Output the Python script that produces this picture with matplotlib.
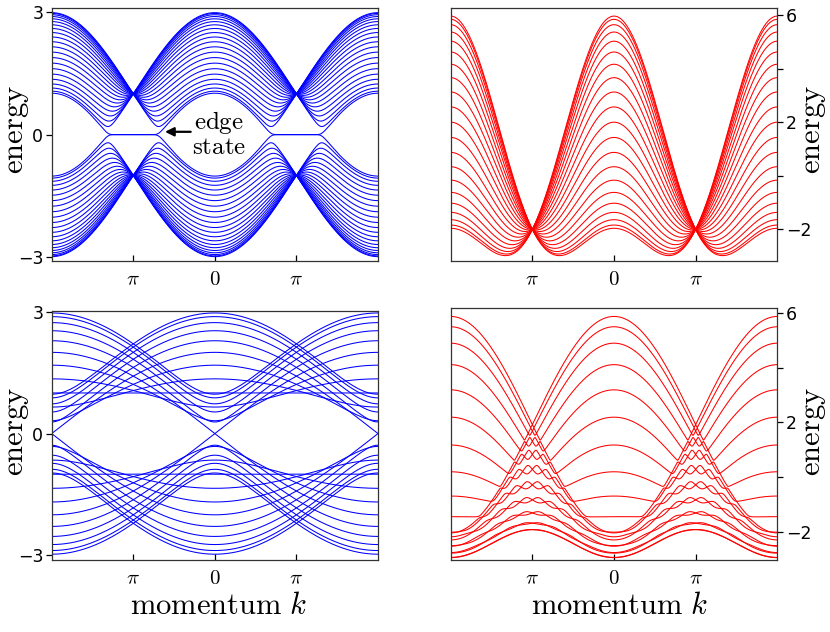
import numpy as np
import matplotlib
matplotlib.use("Agg")
import matplotlib.pyplot as plt

plt.rcParams['mathtext.fontset'] = 'cm'
plt.rcParams['font.family'] = ['DejaVu Sans']

# ---------------- data / model parameters ----------------
k_range = (-2 * np.pi, 2 * np.pi)          # momentum window shown
n_k = 1201
x_ticks = [-np.pi, 0.0, np.pi]
x_tick_labels = [r'$\pi$', r'$0$', r'$\pi$']

zigzag_chains = 22      # honeycomb ribbon, zigzag edges (top left)
tri_rows = 21           # triangular ribbon, zigzag edges (top right)
armchair_lines = 17     # honeycomb ribbon, armchair edges (bottom left)
tri_cols = 20           # triangular ribbon, armchair edges (bottom right)
hop = 1.0               # nearest-neighbour hopping

blue_yticks = [-3, 0, 3]
blue_ylabels = ['\u22123', '0', '3']
red_yticks = [-2, 0, 2, 4, 6]
red_ylabels = ['\u22122', '', '2', '', '6']

ylim_tl = (-3.1, 3.1)
ylim_bl = (-3.1, 3.03)
ylim_tr = (-3.18, 6.25)
ylim_br = (-3.03, 6.18)

# ---------------- tight-binding helpers ----------------
def chain(n, d=1):
    m = np.zeros((n, n))
    for i in range(n - d):
        m[i, i + d] = m[i + d, i] = hop
    return m

def zigzag_honeycomb(k, N):
    H = np.zeros((2 * N, 2 * N))
    v = 2 * hop * np.cos(k / 2)
    for i in range(N):
        H[2 * i, 2 * i + 1] = H[2 * i + 1, 2 * i] = v
        if i < N - 1:
            H[2 * i + 1, 2 * i + 2] = H[2 * i + 2, 2 * i + 1] = hop
    return np.linalg.eigvalsh(H)

def zigzag_triangular(k, N):
    H = 2 * hop * np.cos(k) * np.eye(N) + 2 * np.cos(k / 2) * chain(N, 1)
    return np.linalg.eigvalsh(H)

def armchair_honeycomb(k, N):
    c = np.cos(np.arange(1, N + 1) * np.pi / (N + 1))
    e = np.sqrt(np.abs(1 + 4 * c ** 2 + 4 * c * np.cos(k / 2))) * hop
    return np.sort(np.concatenate([-e, e]))

def armchair_triangular(k, N):
    H = 2 * np.cos(k / 2) * chain(N, 1) + chain(N, 2)
    return np.linalg.eigvalsh(H)

ks = np.linspace(k_range[0], k_range[1], n_k)
bands_tl = np.array([zigzag_honeycomb(k, zigzag_chains) for k in ks])
bands_tr = np.array([zigzag_triangular(k, tri_rows) for k in ks])
bands_bl = np.array([armchair_honeycomb(k, armchair_lines) for k in ks])
bands_br = np.array([armchair_triangular(k, tri_cols) for k in ks])

# ---------------- figure ----------------
W, Hh = 830, 632
fig = plt.figure(figsize=(W / 100, Hh / 100), dpi=100)

def rect(l, t, r, b):
    return [l / W, 1 - b / Hh, (r - l) / W, (b - t) / Hh]

ax_tl = fig.add_axes(rect(51.7, 8.3, 378, 261))
ax_tr = fig.add_axes(rect(450.7, 8.3, 777.3, 261))
ax_bl = fig.add_axes(rect(51.7, 310.5, 378, 559.5))
ax_br = fig.add_axes(rect(450.7, 308, 777.3, 560))

def style(ax, bands, color, ylim, yt, ylab, right):
    ax.plot(ks, bands, color=color, lw=0.75)
    ax.set_xlim(*k_range)
    ax.set_ylim(*ylim)
    ax.set_xticks(x_ticks)
    ax.set_xticklabels(x_tick_labels, fontsize=15)
    ax.set_yticks(yt)
    ax.set_yticklabels(ylab, fontsize=12.5)
    ax.tick_params(axis='x', direction='in', length=4.5, width=0.9, pad=6)
    ax.tick_params(axis='y', direction='out', length=4, width=0.9, pad=2)
    if right:
        ax.yaxis.tick_right()
    for s in ax.spines.values():
        s.set_linewidth(0.9)
        s.set_color('#333333')

style(ax_tl, bands_tl, '#0000ff', ylim_tl, blue_yticks, blue_ylabels, False)
style(ax_bl, bands_bl, '#0000ff', ylim_bl, blue_yticks, blue_ylabels, False)
style(ax_tr, bands_tr, '#ff0000', ylim_tr, red_yticks, red_ylabels, True)
style(ax_br, bands_br, '#ff0000', ylim_br, red_yticks, red_ylabels, True)

# axis labels
for (x, y) in [(16.7, 130), (16.7, 432), (813, 130), (813, 432)]:
    fig.text(x / W, 1 - y / Hh, r'$\mathrm{energy}$', rotation=90,
             ha='center', va='center', fontsize=22)
for (x, y) in [(218.5, 614), (620, 614)]:
    fig.text(x / W, 1 - y / Hh, r'$\mathrm{momentum}\ k$',
             ha='center', va='baseline', fontsize=22)

# edge-state annotation (one two-line text block)
ax_tl.text(0.15, 0.02, r'$\mathrm{edge}$' + '\n' + r'$\mathrm{state}$',
           ha='center', va='center', multialignment='center',
           fontsize=18, linespacing=0.95)
ax_tl.annotate('', xy=(-1.92, 0.07), xytext=(-0.93, 0.07),
               arrowprops=dict(arrowstyle='-|>', color='k', lw=1.6,
                               mutation_scale=13, shrinkA=0, shrinkB=0))

fig.savefig('out.png', dpi=100)
